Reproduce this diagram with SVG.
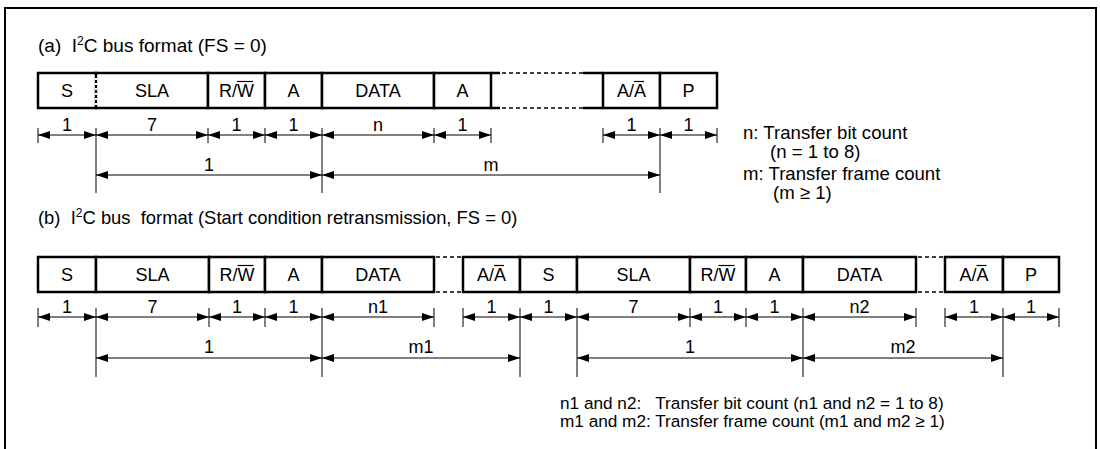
<svg xmlns="http://www.w3.org/2000/svg" width="1100" height="449" viewBox="0 0 1100 449">
<defs>
<marker id="ar" viewBox="0 0 12 8" refX="12" refY="4" markerWidth="12" markerHeight="8" markerUnits="userSpaceOnUse" orient="auto-start-reverse">
<path d="M0,0 L12,4 L0,8 z" fill="#000"/>
</marker>
<style>
text{font-family:"Liberation Sans",Arial,sans-serif;font-size:18px;fill:#000;white-space:pre}
.c{text-anchor:middle}
.t{font-size:19px}
.tb{font-size:18.4px}
.la{font-size:18.6px}
.lb{font-size:17.2px}
.box{fill:#fff;stroke:#000;stroke-width:2.5}
.dash{fill:none;stroke:#000;stroke-width:1.5;stroke-dasharray:4 3}
.dim{stroke:#000;stroke-width:1;fill:none;marker-start:url(#ar);marker-end:url(#ar)}
.tk{stroke:#000;stroke-width:1;fill:none}
.ov{stroke:#000;stroke-width:1.2}
</style>
</defs>
<rect width="1100" height="449" fill="#fff"/>
<path d="M5,449 V8 H1096 V449" fill="none" stroke="#000" stroke-width="2"/>

<g id="titleA"><text class="t" x="38" y="52" xml:space="preserve">(a)  I<tspan font-size="12" dy="-7">2</tspan><tspan dy="7">C bus format (FS = 0)</tspan></text></g>

<g id="frameA">
<rect class="box" x="38" y="73" width="58" height="35"/>
<rect class="box" x="96" y="73" width="112" height="35"/>
<line x1="96" y1="75" x2="96" y2="106" stroke="#fff" stroke-width="3"/>
<line x1="96" y1="75" x2="96" y2="107" stroke="#000" stroke-width="2" stroke-dasharray="3 2"/>
<rect class="box" x="208" y="73" width="57" height="35"/>
<rect class="box" x="265" y="73" width="57" height="35"/>
<rect class="box" x="322" y="73" width="112" height="35"/>
<rect class="box" x="434" y="73" width="57" height="35"/>
<path d="M491,73 H500 M583,73 H603 M491,108 H500 M583,108 H603" stroke="#000" stroke-width="2.5"/>
<path class="dash" d="M502,73 H583 M502,108 H583"/>
<rect class="box" x="603" y="73" width="57" height="35"/>
<rect class="box" x="660" y="73" width="57" height="35"/>
<text class="c" x="67" y="97">S</text>
<text class="c" x="152" y="97">SLA</text>
<text class="c" x="236.5" y="97">R/W</text><line class="ov" x1="237" y1="81.5" x2="253" y2="81.5"/>
<text class="c" x="293.5" y="97">A</text>
<text class="c" x="378" y="97">DATA</text>
<text class="c" x="462.5" y="97">A</text>
<text class="c" x="631.5" y="97">A/A</text><line class="ov" x1="634" y1="81.5" x2="644" y2="81.5"/>
<text class="c" x="688.5" y="97">P</text>
</g>

<g id="connectorsA">
<path class="tk" d="M38,128 V143 M208,128 V143 M265,128 V143 M434,128 V143 M491,128 V143 M603,128 V143 M717,128 V143 M96,128 V193 M322,128 V193 M660,128 V193"/>
<line class="dim" x1="38" y1="135" x2="96" y2="135"/>
<line class="dim" x1="96" y1="135" x2="208" y2="135"/>
<line class="dim" x1="208" y1="135" x2="265" y2="135"/>
<line class="dim" x1="265" y1="135" x2="322" y2="135"/>
<line class="dim" x1="322" y1="135" x2="434" y2="135"/>
<line class="dim" x1="434" y1="135" x2="491" y2="135"/>
<line class="dim" x1="603" y1="135" x2="660" y2="135"/>
<line class="dim" x1="660" y1="135" x2="717" y2="135"/>
<line class="dim" x1="96" y1="175" x2="322" y2="175"/>
<line class="dim" x1="322" y1="175" x2="660" y2="175"/>
</g>
<g id="labelsA">
<text class="c" x="67" y="131">1</text>
<text class="c" x="152" y="131">7</text>
<text class="c" x="236.5" y="131">1</text>
<text class="c" x="293.5" y="131">1</text>
<text class="c" x="378" y="131">n</text>
<text class="c" x="462.5" y="131">1</text>
<text class="c" x="631.5" y="131">1</text>
<text class="c" x="688.5" y="131">1</text>
<text class="c" x="209" y="171">1</text>
<text class="c" x="491" y="171">m</text>
</g>
<g id="legendA">
<text class="la" x="743" y="139">n: Transfer bit count</text>
<text class="la" x="770" y="158">(n = 1 to 8)</text>
<text class="la" x="743" y="180">m: Transfer frame count</text>
<text class="la" x="773" y="199">(m ≥ 1)</text>
</g>

<g id="titleB"><text class="tb" x="38" y="224" xml:space="preserve">(b)  I<tspan font-size="12" dy="-7">2</tspan><tspan dy="7">C bus  format (Start condition retransmission, FS = 0)</tspan></text></g>

<g id="frameB">
<rect class="box" x="38" y="257" width="58" height="35"/>
<rect class="box" x="96" y="257" width="113" height="35"/>
<rect class="box" x="209" y="257" width="56" height="35"/>
<rect class="box" x="265" y="257" width="57" height="35"/>
<rect class="box" x="322" y="257" width="112" height="35"/>
<path class="dash" d="M436,257 H463 M436,292 H463"/>
<rect class="box" x="463" y="257" width="57" height="35"/>
<rect class="box" x="520" y="257" width="57" height="35"/>
<rect class="box" x="577" y="257" width="113" height="35"/>
<rect class="box" x="690" y="257" width="56" height="35"/>
<rect class="box" x="746" y="257" width="57" height="35"/>
<rect class="box" x="803" y="257" width="113" height="35"/>
<path class="dash" d="M918,257 H945 M918,292 H945"/>
<rect class="box" x="945" y="257" width="58" height="35"/>
<rect class="box" x="1003" y="257" width="56" height="35"/>
<text class="c" x="67" y="281">S</text>
<text class="c" x="152.5" y="281">SLA</text>
<text class="c" x="237" y="281">R/W</text><line class="ov" x1="237.5" y1="265.5" x2="253.5" y2="265.5"/>
<text class="c" x="293.5" y="281">A</text>
<text class="c" x="378" y="281">DATA</text>
<text class="c" x="491.5" y="281">A/A</text><line class="ov" x1="494" y1="265.5" x2="504" y2="265.5"/>
<text class="c" x="548.5" y="281">S</text>
<text class="c" x="633.5" y="281">SLA</text>
<text class="c" x="718" y="281">R/W</text><line class="ov" x1="718.5" y1="265.5" x2="734.5" y2="265.5"/>
<text class="c" x="774.5" y="281">A</text>
<text class="c" x="859.5" y="281">DATA</text>
<text class="c" x="974" y="281">A/A</text><line class="ov" x1="976.5" y1="265.5" x2="986.5" y2="265.5"/>
<text class="c" x="1031" y="281">P</text>
</g>

<g id="connectorsB">
<path class="tk" d="M38,308 V327 M209,308 V327 M265,308 V327 M434,308 V327 M463,308 V327 M690,308 V327 M746,308 V327 M916,308 V327 M945,308 V327 M1059,308 V327 M96,308 V377 M322,308 V377 M520,308 V377 M577,308 V377 M803,308 V377 M1003,308 V377"/>
<line class="dim" x1="38" y1="317" x2="96" y2="317"/>
<line class="dim" x1="96" y1="317" x2="209" y2="317"/>
<line class="dim" x1="209" y1="317" x2="265" y2="317"/>
<line class="dim" x1="265" y1="317" x2="322" y2="317"/>
<line class="dim" x1="322" y1="317" x2="434" y2="317"/>
<line class="dim" x1="463" y1="317" x2="520" y2="317"/>
<line class="dim" x1="520" y1="317" x2="577" y2="317"/>
<line class="dim" x1="577" y1="317" x2="690" y2="317"/>
<line class="dim" x1="690" y1="317" x2="746" y2="317"/>
<line class="dim" x1="746" y1="317" x2="803" y2="317"/>
<line class="dim" x1="803" y1="317" x2="916" y2="317"/>
<line class="dim" x1="945" y1="317" x2="1003" y2="317"/>
<line class="dim" x1="1003" y1="317" x2="1059" y2="317"/>
<line class="dim" x1="96" y1="358" x2="322" y2="358"/>
<line class="dim" x1="322" y1="358" x2="520" y2="358"/>
<line class="dim" x1="577" y1="358" x2="803" y2="358"/>
<line class="dim" x1="803" y1="358" x2="1003" y2="358"/>
</g>
<g id="labelsB">
<text class="c" x="67" y="313">1</text>
<text class="c" x="152.5" y="313">7</text>
<text class="c" x="237" y="313">1</text>
<text class="c" x="293.5" y="313">1</text>
<text class="c" x="378" y="313">n1</text>
<text class="c" x="491.5" y="313">1</text>
<text class="c" x="548.5" y="313">1</text>
<text class="c" x="633.5" y="313">7</text>
<text class="c" x="718" y="313">1</text>
<text class="c" x="774.5" y="313">1</text>
<text class="c" x="859.5" y="313">n2</text>
<text class="c" x="974" y="313">1</text>
<text class="c" x="1031" y="313">1</text>
<text class="c" x="209" y="353">1</text>
<text class="c" x="421" y="353">m1</text>
<text class="c" x="690" y="353">1</text>
<text class="c" x="903" y="353">m2</text>
</g>
<g id="legendB">
<text class="lb" x="560" y="409" xml:space="preserve">n1 and n2:   Transfer bit count (n1 and n2 = 1 to 8)</text>
<text class="lb" x="560" y="427">m1 and m2: Transfer frame count (m1 and m2 ≥ 1)</text>
</g>
</svg>
